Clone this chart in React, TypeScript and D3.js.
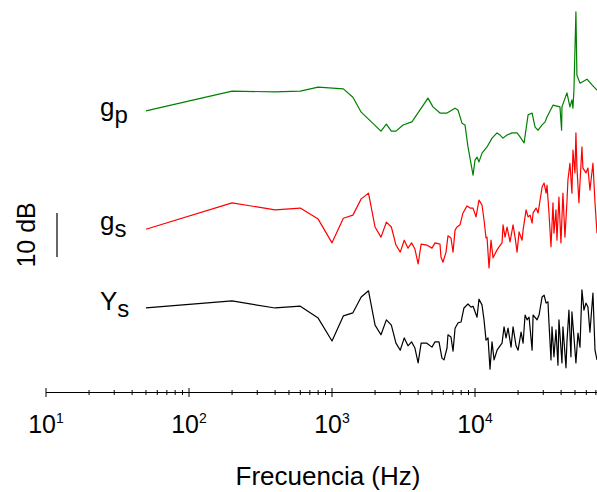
import React from "react";
import * as d3 from "d3";

// ---------- data ----------
const gpFreq = [50, 200, 400, 600, 800, 1200, 1400, 1600, 2200, 2400, 2600, 2800, 3140, 3620, 4690, 5080, 5690, 6370, 7250, 7600, 8110, 8510, 8930, 9690, 10000, 10330, 10660, 11190, 12130, 13150, 14260, 14960, 15700, 16750, 18150, 19680, 20650, 22030, 23500, 25070, 26300, 27610, 29450, 30900, 31870, 35090, 39260, 40300, 40550, 43930, 46100, 47610, 48380, 49170, 50770, 51590, 54200, 60670, 65770, 71280];
const gpDb = [63.9, 68.4, 68.2, 68.4, 69.3, 68.9, 67.0, 63.6, 59.3, 60.9, 59.3, 59.3, 60.7, 61.4, 66.8, 64.8, 63.4, 63.4, 64.5, 64.1, 61.1, 60.7, 55.7, 49.3, 52.7, 53.4, 52.3, 54.3, 55.7, 57.7, 58.9, 58.4, 57.7, 58.4, 58.9, 58.9, 58.0, 56.6, 63.0, 63.4, 60.2, 59.5, 60.7, 61.4, 62.5, 65.2, 64.8, 59.5, 64.8, 68.0, 64.8, 66.4, 64.5, 68.6, 86.4, 72.0, 70.2, 71.1, 69.8, 68.6];

const gsFreq = [50, 200, 400, 600, 800, 1000, 1200, 1400, 1600, 1800, 2000, 2200, 2400, 2600, 2800, 3000, 3200, 3400, 3600, 3800, 4000, 4200, 4600, 5000, 5250, 5690, 5780, 5970, 6270, 6470, 6790, 7020, 7250, 7480, 7850, 8240, 8790, 9230, 9690, 10160, 10660, 11190, 11560, 11940, 12130, 12530, 12940, 13370, 14260, 14720, 15450, 15700, 16220, 16750, 17580, 18450, 19050, 19680, 20330, 21330, 21680, 22760, 23500, 24270, 25070, 25470, 26740, 27610, 29450, 30410, 31410, 31870, 32900, 33980, 35090, 35650, 36820, 37410, 38630, 39890, 41190, 42540, 43930, 44640, 46100, 47610, 48380, 49960, 50770, 51590, 53280, 55920, 56830, 59660, 61610, 63620, 66780, 69020, 71280];
const gsDb = [37.0, 43.0, 41.4, 41.8, 39.3, 33.9, 39.5, 40.2, 43.9, 45.2, 37.5, 35.2, 38.6, 37.5, 33.4, 31.8, 34.5, 32.7, 33.9, 32.5, 29.1, 33.6, 33.4, 32.7, 33.9, 33.6, 30.7, 29.5, 31.8, 35.5, 35.0, 31.8, 36.8, 37.5, 38.0, 40.7, 42.3, 41.8, 41.8, 39.8, 43.6, 42.5, 39.1, 35.0, 35.2, 28.2, 34.5, 30.5, 32.3, 33.0, 33.9, 38.0, 35.2, 37.5, 34.1, 38.0, 35.2, 31.8, 36.4, 34.5, 36.8, 41.4, 39.8, 40.2, 38.4, 40.7, 41.8, 40.7, 46.6, 47.5, 45.2, 47.0, 40.7, 33.0, 43.0, 36.1, 41.4, 34.5, 44.3, 33.9, 45.2, 35.2, 43.2, 48.2, 52.0, 45.2, 55.0, 49.8, 58.9, 51.1, 43.0, 55.7, 50.9, 49.8, 50.9, 45.9, 52.0, 43.0, 36.1];

const ysFreq = [50, 200, 400, 600, 800, 1000, 1200, 1400, 1600, 1800, 2000, 2200, 2400, 2600, 2800, 3000, 3200, 3400, 3600, 3800, 4000, 4200, 4600, 5000, 5250, 5600, 5870, 6070, 6370, 6470, 6790, 7020, 7250, 7600, 7980, 8370, 8930, 9380, 9690, 10330, 10660, 11190, 11560, 11940, 12330, 12730, 13150, 13590, 14260, 14960, 15450, 15960, 16480, 17020, 17860, 18450, 19360, 20000, 20990, 21680, 22390, 23120, 23880, 25070, 25470, 27170, 28050, 29450, 30410, 31410, 32370, 32900, 33980, 34530, 35650, 36820, 38020, 38630, 40550, 41190, 43260, 43930, 45360, 46850, 47610, 49170, 50770, 52480, 54200, 55920, 57770, 59660, 61610, 63620, 66780, 69020, 71280];
const ysDb = [19.1, 20.7, 19.1, 19.5, 16.8, 11.6, 17.3, 18.0, 21.6, 23.0, 15.2, 13.0, 16.4, 15.2, 11.1, 9.5, 12.3, 10.5, 11.4, 10.0, 6.6, 11.1, 11.1, 10.2, 11.4, 11.4, 7.7, 7.3, 10.0, 13.0, 12.5, 9.3, 14.5, 15.7, 15.9, 19.1, 20.0, 19.3, 19.5, 17.0, 21.1, 19.8, 16.4, 11.8, 12.3, 5.2, 11.4, 7.3, 9.5, 10.5, 11.1, 14.8, 12.3, 14.5, 10.2, 14.8, 10.5, 9.5, 13.6, 11.1, 17.5, 16.4, 17.0, 9.5, 17.5, 16.4, 17.5, 21.6, 22.0, 20.2, 20.5, 15.7, 7.3, 14.8, 8.0, 14.1, 6.1, 16.4, 6.6, 14.8, 5.5, 11.4, 18.6, 8.0, 18.2, 12.5, 6.6, 13.4, 10.2, 23.2, 18.6, 20.2, 19.3, 13.6, 22.5, 9.5, 7.3];

const xDomain = [10, 71280];
const yDomain = [0, 89.1];
const scaleBarDb = 10;
const scaleBarBase = 30.7;
const xTitle = "Frecuencia (Hz)";
const scaleLabel = "10 dB";

const series = [
  { base: "g", sub: "p", freq: gpFreq, db: gpDb, color: "#008000", labelY: 116 },
  { base: "g", sub: "s", freq: gsFreq, db: gsDb, color: "#ff0000", labelY: 230 },
  { base: "Y", sub: "s", freq: ysFreq, db: ysDb, color: "#000000", labelY: 310 },
];

const W = 597;
const H = 492;
const FONT = "'Liberation Sans', Arial, Helvetica, sans-serif";

export default function App() {
  const x = d3.scaleLog().domain(xDomain).range([46, 597]);
  const y = d3.scaleLinear().domain(yDomain).range([392, 0]);
  const axisY = 392.5;

  const line = d3
    .line<[number, number]>()
    .x((d) => x(d[0]))
    .y((d) => y(d[1]));

  const ticks = x.ticks();
  const isMajor = (t: number) => Math.abs(Math.log10(t) - Math.round(Math.log10(t))) < 1e-9;

  return (
    <svg
      width={W}
      height={H}
      style={{ position: "absolute", left: 0, top: 0, background: "#fff" }}
      fontFamily={FONT}
    >
      {/* curves */}
      {series.map((s, i) => (
        <path
          key={i}
          d={line(s.freq.map((f, j) => [f, s.db[j]] as [number, number])) || ""}
          fill="none"
          stroke={s.color}
          strokeWidth={1.2}
          strokeLinejoin="round"
        />
      ))}

      {/* series labels */}
      {series.map((s, i) => (
        <text key={"l" + i} x={100} y={s.labelY} fontSize={26} fill="#000">
          {s.base}
          <tspan fontSize={24} dy={7}>
            {s.sub}
          </tspan>
        </text>
      ))}

      {/* scale bar */}
      <line
        x1={57}
        x2={57}
        y1={y(scaleBarBase)}
        y2={y(scaleBarBase + scaleBarDb)}
        stroke="#000"
        strokeWidth={1.2}
      />
      <text
        transform={`translate(35, ${(y(scaleBarBase) + y(scaleBarBase + scaleBarDb)) / 2}) rotate(-90)`}
        textAnchor="middle"
        fontSize={25}
        fill="#000"
      >
        {scaleLabel}
      </text>

      {/* x axis */}
      <line x1={x(xDomain[0])} x2={W} y1={axisY} y2={axisY} stroke="#000" strokeWidth={1.2} />
      {ticks.map((t, i) => {
        const major = isMajor(t);
        const h = major ? 4.5 : 2.5;
        return (
          <line
            key={"t" + i}
            x1={x(t)}
            x2={x(t)}
            y1={axisY - h}
            y2={axisY + h}
            stroke="#000"
            strokeWidth={1}
          />
        );
      })}
      {ticks.filter(isMajor).map((t, i) => (
        <text key={"tl" + i} x={x(t)} y={433} textAnchor="middle" fontSize={25} fill="#000">
          10
          <tspan fontSize={14} dy={-10}>
            {Math.round(Math.log10(t))}
          </tspan>
        </text>
      ))}

      <text x={328} y={485} textAnchor="middle" fontSize={26} fill="#000">
        {xTitle}
      </text>
    </svg>
  );
}
